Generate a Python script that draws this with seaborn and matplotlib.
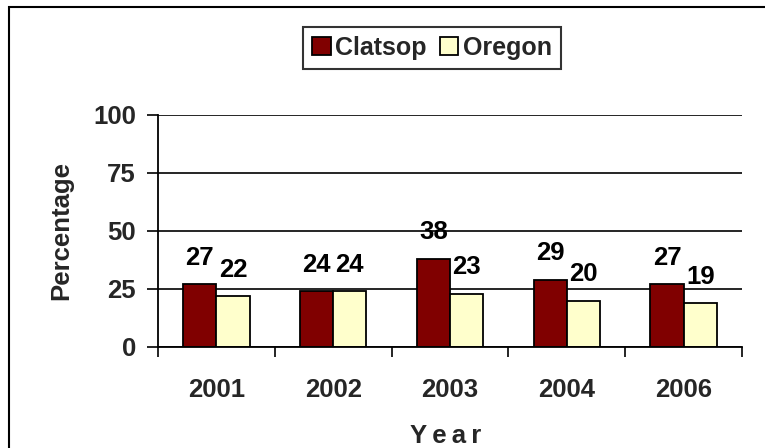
import numpy as np
import pandas as pd
import matplotlib
matplotlib.use("Agg")
import matplotlib.pyplot as plt
from matplotlib.patches import Rectangle
import seaborn as sns

years = ["2001", "2002", "2003", "2004", "2006"]
clatsop = [27, 24, 38, 29, 27]
oregon = [22, 24, 23, 20, 19]
series = ["Clatsop", "Oregon"]
colors = ["#800000", "#FFFFCC"]
yticks = [0, 25, 50, 75, 100]

df = pd.DataFrame({
    "Year": years * 2,
    "Percentage": clatsop + oregon,
    "Series": ["Clatsop"] * len(years) + ["Oregon"] * len(years),
})

sns.set_theme(style="white")
plt.rcParams["font.family"] = ["Liberation Sans", "DejaVu Sans"]
plt.rcParams["font.weight"] = "bold"

FS = 18.5

fig = plt.figure(figsize=(7.65, 4.48), dpi=100)
ax = fig.add_axes([158 / 765, 1 - 347 / 448, 584 / 765, 232 / 448])

sns.barplot(data=df, x="Year", y="Percentage", hue="Series", order=years,
            hue_order=series, palette=colors, width=0.57, edgecolor="black",
            linewidth=1.3, saturation=1, ax=ax, legend=True)

ax.set_ylim(0, 100)
ax.set_xlim(-0.5, len(years) - 0.5)
ax.set_yticks(yticks)
ax.set_yticklabels([str(t) for t in yticks], fontsize=FS, fontweight="bold")
ax.yaxis.grid(True, color="black", linewidth=1.2)
ax.set_axisbelow(True)
ax.tick_params(axis="y", which="major", length=8, width=1.2, color="black",
               direction="out", pad=8, left=True)
ax.set_xticks(range(len(years)))
ax.set_xticklabels(years, fontsize=FS, fontweight="bold")
ax.tick_params(axis="x", which="major", length=0, pad=22)
ax.set_xticks(np.arange(-0.5, len(years)), minor=True)
ax.tick_params(axis="x", which="minor", length=7, width=1.2, color="black",
               direction="out", bottom=True)

for s in ["top", "right"]:
    ax.spines[s].set_visible(False)
for s in ["left", "bottom"]:
    ax.spines[s].set_visible(True)
    ax.spines[s].set_color("black")
    ax.spines[s].set_linewidth(1.3)

for cont in ax.containers:
    for bar in cont:
        h = bar.get_height()
        ax.annotate(f"{h:.0f}", (bar.get_x() + bar.get_width() / 2, h),
                    xytext=(0, 19), textcoords="offset points",
                    ha="center", va="center", fontsize=FS, fontweight="bold",
                    color="black")

ax.set_ylabel("Percentage", fontsize=FS, fontweight="bold", labelpad=14)
ax.set_xlabel("Y e a r".replace(" ", "\u2009"), fontsize=FS, fontweight="bold", labelpad=18)
ax.xaxis.set_label_coords(0.492, -0.33)

handles, labels = ax.get_legend_handles_labels()
ax.legend_.remove()
leg = fig.legend(handles, labels, loc="center", bbox_to_anchor=(432 / 765, 1 - 48 / 448),
                 ncol=2, frameon=True, fancybox=False, edgecolor="black",
                 prop={"size": 18, "weight": "bold"}, handlelength=0.75,
                 handleheight=0.75, handletextpad=0.2, columnspacing=0.5,
                 borderpad=0.35, borderaxespad=0)
leg.get_frame().set_linewidth(1.5)

fig.patches.append(Rectangle((9 / 765, -0.1), 1.2, 1 - 7 / 448 + 0.1,
                             transform=fig.transFigure, fill=False,
                             edgecolor="black", linewidth=1.5))

fig.savefig("out.png", dpi=100)
